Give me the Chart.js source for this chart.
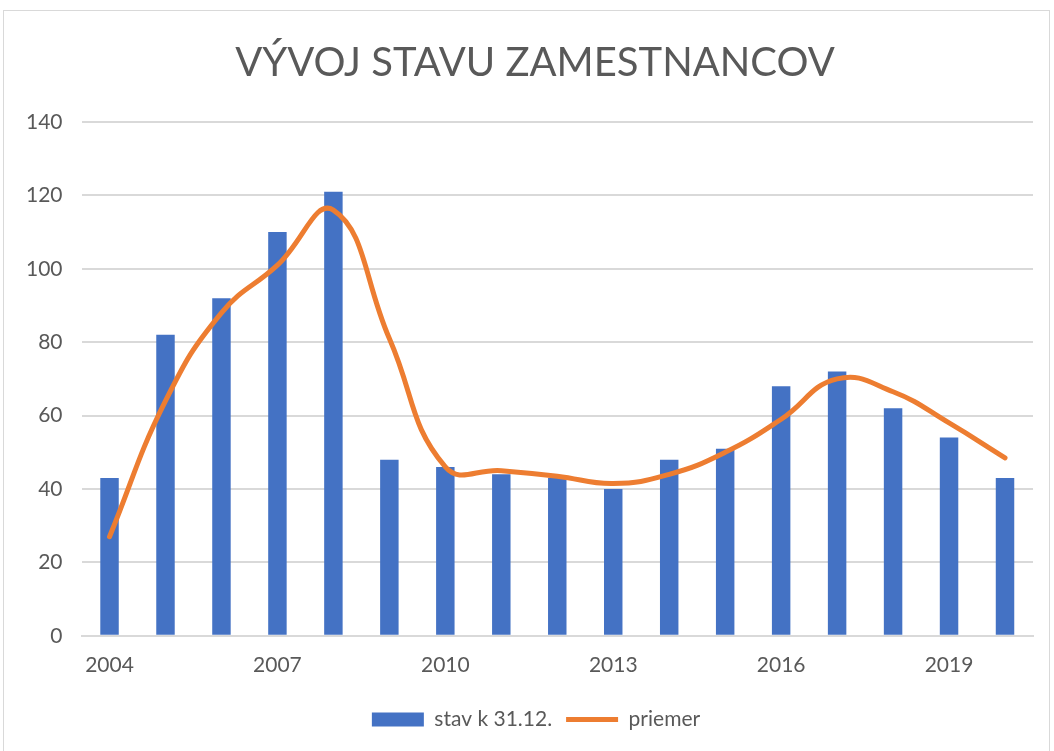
<!DOCTYPE html>
<html>
<head>
<meta charset="utf-8">
<script src="https://cdn.jsdelivr.net/npm/chart.js@4.4.1/dist/chart.umd.min.js"></script>
<style>
  html, body { margin: 0; padding: 0; background: #fff; }
  #wrap { width: 1054px; height: 751px; position: relative; }
</style>
</head>
<body>
<div id="wrap"><canvas id="chart" width="1054" height="751"></canvas></div>
<script>
const years = ["2004", "2005", "2006", "2007", "2008", "2009", "2010", "2011", "2012",
  "2013", "2014", "2015", "2016", "2017", "2018", "2019", "2020"];
const stav = [43, 82, 92, 110, 121, 48, 46, 44, 43, 40, 48, 51, 68, 72, 62, 54, 43];
const priemer = [27, 64, 88, 101, 116, 81, 46, 45, 43.5, 41.5, 44, 50, 59, 70, 66.5, 58, 48.5];

const textColor = "#595959";
const gridColor = "#d9d9d9";

// outer frame like the office chart area
const framePlugin = {
  id: "frame",
  beforeDraw(chart) {
    const c = chart.ctx;
    c.save();
    c.strokeStyle = gridColor;
    c.lineWidth = 1;
    c.strokeRect(3.5, 10.5, 1046, 760);
    c.restore();
  }
};

// title and legend in the original sit a bit right of the canvas centre
const blockShift = {
  id: "blockShift",
  afterLayout(chart) {
    if (chart.titleBlock) {
      chart.titleBlock.left += 15;
      chart.titleBlock.right += 15;
    }
    if (chart.legend) {
      chart.legend.left += 16;
      chart.legend.right += 16;
    }
  }
};

const ctx = document.getElementById("chart").getContext("2d");

new Chart(ctx, {
  data: {
    labels: years,
    datasets: [
      {
        type: "line",
        label: "priemer",
        data: priemer,
        borderColor: "#ED7D31",
        backgroundColor: "#ED7D31",
        borderWidth: 5,
        borderCapStyle: "round",
        pointRadius: 0,
        pointStyle: "line",
        tension: 0.45,
        order: 0,
      },
      {
        type: "bar",
        label: "stav k 31.12.",
        data: stav,
        backgroundColor: "#4472C4",
        borderWidth: 0,
        pointStyle: "rect",
        barPercentage: 0.33,
        categoryPercentage: 1,
        order: 1,
      },
    ],
  },
  options: {
    responsive: false,
    animation: false,
    layout: { padding: { left: 7, right: 21, top: 0, bottom: 11 } },
    plugins: {
      title: {
        display: true,
        text: "VÝVOJ STAVU ZAMESTNANCOV",
        color: textColor,
        font: { family: "Lato", size: 40, weight: "normal" },
        padding: { top: 39, bottom: 35 },
      },
      legend: {
        position: "bottom",
        reverse: true,
        labels: {
          color: textColor,
          font: { family: "Lato", size: 21 },
          usePointStyle: true,
          pointStyleWidth: 52,
          boxHeight: 14,
          padding: 14,
        },
      },
      tooltip: { enabled: false },
    },
    scales: {
      x: {
        grid: { display: false, drawTicks: false },
        border: { display: true, color: gridColor, width: 2 },
        ticks: {
          color: textColor,
          font: { family: "Lato", size: 21 },
          autoSkip: false,
          maxRotation: 0,
          padding: 17,
          callback: function (val, i) {
            return i % 3 === 0 ? years[i] : "";
          },
        },
      },
      y: {
        min: 0,
        max: 140,
        grid: { color: gridColor, lineWidth: 2, drawTicks: false },
        border: { display: false },
        ticks: {
          stepSize: 20,
          color: textColor,
          font: { family: "Lato", size: 21 },
          padding: 19,
        },
      },
    },
  },
  plugins: [framePlugin, blockShift],
});
</script>
</body>
</html>
